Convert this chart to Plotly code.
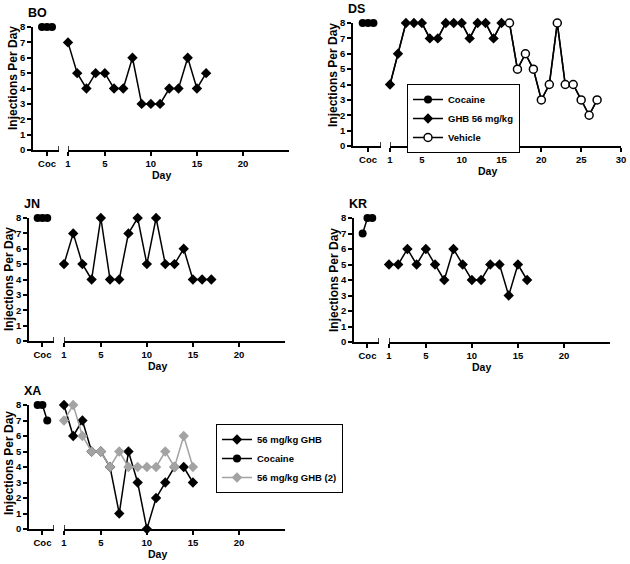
import plotly.graph_objects as go

W, H = 630, 564

# ---------------- data ----------------
coc_pos = [1, 2, 3]
coc_tick = [2]
coc_label = ["Coc"]
y_ticks = [0, 1, 2, 3, 4, 5, 6, 7, 8]
day_ticks_short = [1, 5, 10, 15, 20]
day_ticks_long = [1, 5, 10, 15, 20, 25, 30]

BO_coc = [8, 8, 8]
BO_days = list(range(1, 17))
BO_ghb = [7, 5, 4, 5, 5, 4, 4, 6, 3, 3, 3, 4, 4, 6, 4, 5]

DS_coc = [8, 8, 8]
DS_ghb_days = list(range(1, 16))
DS_ghb = [4, 6, 8, 8, 8, 7, 7, 8, 8, 8, 7, 8, 8, 7, 8]
DS_veh_days = list(range(16, 28))
DS_veh = [8, 5, 6, 5, 3, 4, 8, 4, 4, 3, 2, 3]

JN_coc = [8, 8, 8]
JN_days = list(range(1, 18))
JN_ghb = [5, 7, 5, 4, 8, 4, 4, 7, 8, 5, 8, 5, 5, 6, 4, 4, 4]

KR_coc = [7, 8, 8]
KR_days = list(range(1, 17))
KR_ghb = [5, 5, 6, 5, 6, 5, 4, 6, 5, 4, 4, 5, 5, 3, 5, 4]

XA_coc = [8, 8, 7]
XA_days = list(range(1, 16))
XA_ghb = [8, 6, 7, 5, 5, 4, 1, 5, 3, 0, 2, 3, 4, 4, 3]
XA_ghb2 = [7, 8, 6, 5, 5, 4, 5, 4, 4, 4, 4, 5, 4, 6, 4]

# ---------------- layout spec (pixels) ----------------
panels = [
    dict(name="BO", coc=(33, 59), day=(68, 289), y=(27, 150), dr=(1, 25), ticks=day_ticks_short, ytc=78),
    dict(name="DS", coc=(353, 381), day=(390, 621), y=(23, 146), dr=(1, 30), ticks=day_ticks_long, ytc=75),
    dict(name="JN", coc=(29, 54), day=(64, 285), y=(218, 341), dr=(1, 25), ticks=day_ticks_short, ytc=279),
    dict(name="KR", coc=(354, 379), day=(389, 610), y=(218, 342), dr=(1, 25), ticks=day_ticks_short, ytc=280),
    dict(name="XA", coc=(29, 54), day=(64, 285), y=(405, 529), dr=(1, 25), ticks=day_ticks_short, ytc=463),
]
COC_RANGE = [-0.8, 4.4]

FONT = "Liberation Sans, Arial, sans-serif"
BLACK = "#000000"
GRAY = "#a3a3a3"
LW = 1.5

fig = go.Figure()
layout = dict(
    width=W, height=H, autosize=False,
    margin=dict(l=0, r=0, t=0, b=0),
    paper_bgcolor="white", plot_bgcolor="white",
    font=dict(family=FONT, color="black", size=10, weight="bold"),
    showlegend=True,
)
annotations = []
shapes = []


def px(x):
    return x / W


def py(y):
    return 1 - y / H


for i, p in enumerate(panels):
    xc = f"xaxis{2*i+1}" if i > 0 else "xaxis"
    xd = f"xaxis{2*i+2}"
    ya = f"yaxis{i+1}" if i > 0 else "yaxis"
    xc_ref = "x" if i == 0 else f"x{2*i+1}"
    xd_ref = f"x{2*i+2}"
    y_ref = "y" if i == 0 else f"y{i+1}"
    ydom = [py(p["y"][1]), py(p["y"][0])]
    axcommon = dict(showline=True, linecolor=BLACK, linewidth=LW, ticks="outside",
                    ticklen=4, tickwidth=LW, tickcolor=BLACK, showgrid=False, zeroline=False,
                    tickfont=dict(family=FONT, size=9.5, weight="bold"), fixedrange=True,
                    automargin=False)
    layout[xc] = dict(domain=[px(p["coc"][0]), px(p["coc"][1])], range=COC_RANGE,
                      tickvals=coc_tick, ticktext=coc_label, anchor=y_ref, **axcommon)
    layout[xd] = dict(domain=[px(p["day"][0]), px(p["day"][1])], range=list(p["dr"]),
                      tickvals=p["ticks"], anchor=y_ref, **axcommon)
    layout[ya] = dict(domain=ydom, range=[0, 8], tickvals=y_ticks, anchor=xc_ref, **axcommon)

    # break marks
    shapes.append(dict(type="line", xref=xc_ref, yref=y_ref, x0=COC_RANGE[1], x1=COC_RANGE[1],
                       ysizemode="pixel", yanchor=0, y0=-4, y1=4, line=dict(color=BLACK, width=LW)))
    shapes.append(dict(type="line", xref=xd_ref, yref=y_ref, x0=p["dr"][0], x1=p["dr"][0],
                       ysizemode="pixel", yanchor=0, y0=-4, y1=4, line=dict(color=BLACK, width=LW)))

    # panel title
    annotations.append(dict(text=p["name"], xref="paper", yref="paper", x=px(p["coc"][0] - 7),
                            y=py(p["y"][0] - 14), xanchor="left", yanchor="middle", showarrow=False,
                            font=dict(family=FONT, size=12.5, weight="bold")))
    # axis titles
    annotations.append(dict(text="Day", xref="paper", yref="paper",
                            x=px((p["coc"][0] + p["day"][1]) / 2), y=py(p["y"][1] + 25),
                            xanchor="center", yanchor="middle", showarrow=False,
                            font=dict(family=FONT, size=10.5, weight="bold")))
    annotations.append(dict(text="Injections Per Day", xref="paper", yref="paper",
                            x=px(p["coc"][0] - 20), y=py(p["ytc"]), textangle=-90,
                            xanchor="center", yanchor="middle", showarrow=False,
                            font=dict(family=FONT, size=12, weight="bold")))


def line_trace(x, y, xref, yref, symbol, color=BLACK, fill=None, name="", legend=None, show=False, rank=None, size=8):
    t = go.Scatter(
        x=x, y=y, xaxis=xref, yaxis=yref, mode="lines+markers", name=name,
        line=dict(color=color, width=LW),
        marker=dict(symbol=symbol, size=size, color=fill if fill else color,
                    line=dict(color=color, width=LW if fill else 0)),
        cliponaxis=False, showlegend=show,
    )
    if legend:
        t.legend = legend
    if rank is not None:
        t.legendrank = rank
    return t


CIRC = 8
DIAM = 8

# BO
fig.add_trace(line_trace(coc_pos, BO_coc, "x", "y", "circle", size=CIRC))
fig.add_trace(line_trace(BO_days, BO_ghb, "x2", "y", "diamond", size=DIAM))
# DS
fig.add_trace(go.Scatter(x=DS_ghb_days + DS_veh_days, y=DS_ghb + DS_veh, xaxis="x4", yaxis="y2",
                         mode="lines", line=dict(color=BLACK, width=LW), showlegend=False, cliponaxis=False))
fig.add_trace(line_trace(coc_pos, DS_coc, "x3", "y2", "circle", name="Cocaine", legend="legend", show=True, size=CIRC))
fig.add_trace(line_trace(DS_ghb_days, DS_ghb, "x4", "y2", "diamond", name="GHB 56 mg/kg", legend="legend", show=True, size=DIAM))
fig.add_trace(line_trace(DS_veh_days, DS_veh, "x4", "y2", "circle", fill="white", name="Vehicle", legend="legend", show=True, size=CIRC))
# JN
fig.add_trace(line_trace(coc_pos, JN_coc, "x5", "y3", "circle", size=CIRC))
fig.add_trace(line_trace(JN_days, JN_ghb, "x6", "y3", "diamond", size=DIAM))
# KR
fig.add_trace(line_trace(coc_pos, KR_coc, "x7", "y4", "circle", size=CIRC))
fig.add_trace(line_trace(KR_days, KR_ghb, "x8", "y4", "diamond", size=DIAM))
# XA
fig.add_trace(line_trace(coc_pos, XA_coc, "x9", "y5", "circle", name="Cocaine", legend="legend2", show=True, rank=2, size=CIRC))
fig.add_trace(line_trace(XA_days, XA_ghb, "x10", "y5", "diamond", name="56 mg/kg GHB", legend="legend2", show=True, rank=1, size=DIAM))
fig.add_trace(line_trace(XA_days, XA_ghb2, "x10", "y5", "diamond", color=GRAY, name="56 mg/kg GHB (2)", legend="legend2", show=True, rank=3, size=DIAM))

legcommon = dict(bordercolor=BLACK, borderwidth=1, bgcolor="white", xanchor="left", yanchor="top",
                 font=dict(family=FONT, size=9.5, weight="bold"), tracegroupgap=0, itemwidth=30,
                 traceorder="normal")
layout["legend"] = dict(x=px(407), y=py(84), **legcommon)
layout["legend2"] = dict(x=px(216), y=py(424), **legcommon)
layout["annotations"] = annotations
layout["shapes"] = shapes
fig.update_layout(**layout)

fig.write_html(
    "out.html",
    config={"responsive": False, "displayModeBar": False},
    post_script="document.body.style.margin='0';document.body.style.padding='0';document.body.style.overflow='hidden';",
)
